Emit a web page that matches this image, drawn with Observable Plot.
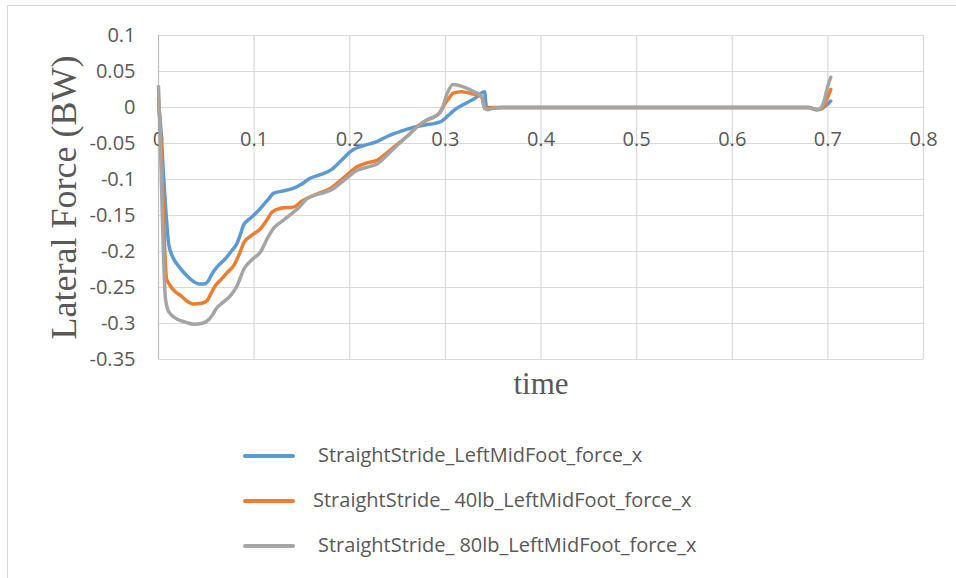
<!DOCTYPE html>
<html>
<head>
<meta charset="utf-8">
<script src="https://cdn.jsdelivr.net/npm/d3@7"></script>
<script src="https://cdn.jsdelivr.net/npm/@observablehq/plot@0.6"></script>
<style>
  html, body { margin: 0; padding: 0; background: #fff; }
  #wrap { position: relative; width: 956px; height: 578px; overflow: hidden; background: #fff; }
  #frame { position: absolute; left: 7px; top: 5px; width: 1000px; height: 1000px; border-left: 1px solid #d9d9d9; border-top: 1px solid #d9d9d9; box-sizing: border-box; }
  #chart { position: absolute; left: 0; top: 0; }
  .leg { position: absolute; font-family: "Open Sans", sans-serif; font-size: 20px; color: #595959; white-space: pre; }
  .sw { position: absolute; width: 52px; height: 4px; border-radius: 2px; }
</style>
</head>
<body>
<div id="wrap">
  <div id="frame"></div>
  <div id="chart"></div>
  <div id="legend"></div>
</div>
<script>
// ---- data ----
const seriesNames = [
  "StraightStride_LeftMidFoot_force_x",
  "StraightStride_ 40lb_LeftMidFoot_force_x",
  "StraightStride_ 80lb_LeftMidFoot_force_x"
];
const seriesColors = ["#5b9bd5", "#ed7d31", "#a5a5a5"];

const blueT = [0, 0.003, 0.005, 0.0073, 0.0108, 0.015, 0.022, 0.03, 0.037, 0.042, 0.048, 0.052, 0.056, 0.0615, 0.07, 0.076, 0.082, 0.086, 0.089, 0.095, 0.1017, 0.108, 0.1157, 0.1205, 0.13, 0.1415, 0.149, 0.159, 0.17, 0.18, 0.19, 0.203, 0.212, 0.229, 0.238, 0.247, 0.258, 0.268, 0.28, 0.289, 0.296, 0.303, 0.31, 0.32, 0.331, 0.341, 0.343, 0.36, 0.68, 0.688, 0.693, 0.697, 0.7, 0.703];
const blueV = [0.005, -0.04, -0.089, -0.136, -0.191, -0.208, -0.222, -0.234, -0.242, -0.245, -0.245, -0.241, -0.231, -0.221, -0.21, -0.2, -0.189, -0.175, -0.163, -0.155, -0.147, -0.138, -0.126, -0.119, -0.116, -0.112, -0.107, -0.098, -0.093, -0.087, -0.075, -0.059, -0.054, -0.047, -0.041, -0.036, -0.031, -0.027, -0.024, -0.022, -0.019, -0.011, -0.003, 0.005, 0.013, 0.022, 0.0, 0.0, 0.0, -0.003, -0.002, 0.002, 0.005, 0.009];

const orangeT = [0, 0.003, 0.0063, 0.0084, 0.011, 0.016, 0.023, 0.03, 0.037, 0.045, 0.051, 0.055, 0.0598, 0.066, 0.072, 0.079, 0.085, 0.0895, 0.097, 0.107, 0.113, 0.119, 0.128, 0.142, 0.149, 0.159, 0.17, 0.18, 0.195, 0.208, 0.218, 0.229, 0.238, 0.247, 0.26, 0.271, 0.28, 0.289, 0.295, 0.299, 0.304, 0.308, 0.317, 0.328, 0.338, 0.341, 0.36, 0.68, 0.689, 0.695, 0.7, 0.703];
const orangeV = [0.013, -0.06, -0.191, -0.238, -0.245, -0.254, -0.261, -0.269, -0.273, -0.272, -0.268, -0.258, -0.247, -0.238, -0.229, -0.219, -0.202, -0.187, -0.178, -0.168, -0.157, -0.145, -0.14, -0.138, -0.131, -0.124, -0.118, -0.112, -0.096, -0.082, -0.077, -0.073, -0.064, -0.054, -0.04, -0.026, -0.018, -0.0125, -0.006, 0.004, 0.013, 0.02, 0.022, 0.019, 0.015, -0.001, 0.0, 0.0, -0.003, 0.0, 0.015, 0.025];

const grayT = [0, 0.002, 0.004, 0.0073, 0.0108, 0.0196, 0.028, 0.037, 0.045, 0.053, 0.057, 0.06, 0.068, 0.0755, 0.082, 0.0895, 0.098, 0.107, 0.113, 0.119, 0.128, 0.135, 0.146, 0.156, 0.168, 0.18, 0.195, 0.208, 0.218, 0.229, 0.24, 0.25, 0.261, 0.271, 0.282, 0.292, 0.297, 0.302, 0.308, 0.318, 0.33, 0.338, 0.341, 0.344, 0.35, 0.36, 0.68, 0.685, 0.69, 0.695, 0.7, 0.703];
const grayV = [0.029, -0.05, -0.15, -0.266, -0.284, -0.294, -0.298, -0.301, -0.3, -0.294, -0.287, -0.28, -0.27, -0.261, -0.248, -0.224, -0.211, -0.2, -0.184, -0.17, -0.159, -0.152, -0.14, -0.126, -0.12, -0.115, -0.1, -0.087, -0.083, -0.078, -0.065, -0.052, -0.039, -0.026, -0.016, -0.01, 0.0, 0.02, 0.032, 0.029, 0.022, 0.015, -0.001, -0.003, -0.001, 0.0, 0.0, -0.002, -0.003, 0.005, 0.03, 0.042];

const xTicks = [0, 0.1, 0.2, 0.3, 0.4, 0.5, 0.6, 0.7, 0.8];
const xTickLabels = ["0", "0.1", "0.2", "0.3", "0.4", "0.5", "0.6", "0.7", "0.8"];
const yTicks = [0.1, 0.05, 0, -0.05, -0.1, -0.15, -0.2, -0.25, -0.3, -0.35];
const yTickLabels = ["0.1", "0.05", "0", "-0.05", "-0.1", "-0.15", "-0.2", "-0.25", "-0.3", "-0.35"];
const xTitle = "time";
const yTitle = "Lateral Force (BW)";

// ---- build table ----
const allT = [blueT, orangeT, grayT];
const allV = [blueV, orangeV, grayV];
const rows = [];
allT.forEach((ts, s) => ts.forEach((t, i) => rows.push({series: seriesNames[s], t, v: allV[s][i]})));
const xTickRows = xTicks.map((t, i) => ({t, label: xTickLabels[i]}));

const chart = Plot.plot({
  width: 956,
  height: 420,
  marginLeft: 158,
  marginRight: 33,
  marginTop: 35,
  marginBottom: 61,
  style: {fontFamily: "'Open Sans', sans-serif", fontSize: "20px", color: "#595959", background: "transparent"},
  x: {domain: [0, 0.8], axis: null},
  y: {domain: [-0.35, 0.1], ticks: yTicks, tickFormat: (d) => yTickLabels[yTicks.indexOf(d)], tickSize: 0, tickPadding: 23, label: null},
  color: {domain: seriesNames, range: seriesColors},
  marks: [
    Plot.ruleX(xTicks, {stroke: "#d9d9d9", strokeWidth: 1.2}),
    Plot.ruleY(yTicks, {stroke: "#d9d9d9", strokeWidth: 1.2}),
    Plot.ruleX([0], {stroke: "#bfbfbf", strokeWidth: 1.2}),
    Plot.text(xTickRows, {x: "t", y: () => 0, text: "label", dy: 32, fill: "#595959"}),
    Plot.line(rows, {x: "t", y: "v", z: "series", stroke: "series", strokeWidth: 3.5, curve: "monotone-x", strokeLinejoin: "round", strokeLinecap: "round"}),
    Plot.text([xTitle], {frameAnchor: "bottom", textAnchor: "middle", lineAnchor: "middle", dy: 25, fontFamily: "'Liberation Serif', 'Times New Roman', serif", fontSize: 31, fill: "#595959"}),
    Plot.text([yTitle], {frameAnchor: "left", textAnchor: "middle", lineAnchor: "middle", dx: -94, rotate: -90, fontFamily: "'Liberation Serif', 'Times New Roman', serif", fontSize: 36, fill: "#595959"})
  ]
});
document.getElementById("chart").appendChild(chart);

// ---- legend (HTML below the plot) ----
const legendTops = [456, 501, 546];
const legendTextLeft = [318, 313, 318];
const legend = document.getElementById("legend");
seriesNames.forEach((name, i) => {
  const sw = document.createElement("div");
  sw.className = "sw";
  sw.style.left = "243px";
  sw.style.top = (legendTops[i] - 2) + "px";
  sw.style.background = seriesColors[i];
  legend.appendChild(sw);
  const tx = document.createElement("div");
  tx.className = "leg";
  tx.style.left = legendTextLeft[i] + "px";
  tx.style.top = (legendTops[i] - 15) + "px";
  tx.style.lineHeight = "28px";
  tx.textContent = name;
  legend.appendChild(tx);
});
</script>
</body>
</html>
